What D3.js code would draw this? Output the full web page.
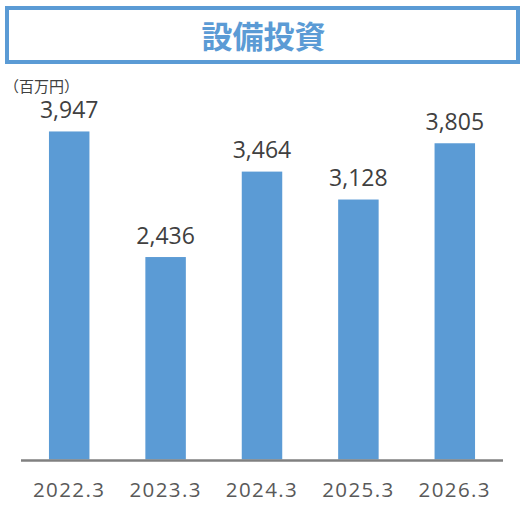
<!DOCTYPE html>
<html>
<head>
<meta charset="utf-8">
<script src="https://cdn.jsdelivr.net/npm/d3@7"></script>
<style>
  html, body { margin: 0; padding: 0; background: #fff; }
  svg { display: block; }
</style>
</head>
<body>
<svg id="chart" width="527" height="513"></svg>
<script>
const titleText = "設備投資";
const unitText = "（百万円）";
const categories = ["2022.3", "2023.3", "2024.3", "2025.3", "2026.3"];
const values = [3947, 2436, 3464, 3128, 3805];

const W = 527, H = 513;
const svg = d3.select("#chart");
const blue = "#5B9BD5";

// Title box
svg.append("rect")
  .attr("x", 7).attr("y", 8)
  .attr("width", 511).attr("height", 54)
  .attr("fill", "none")
  .attr("stroke", blue)
  .attr("stroke-width", 4);

svg.append("text")
  .attr("x", 263.5).attr("y", 34.5)
  .attr("text-anchor", "middle")
  .attr("dominant-baseline", "central")
  .attr("font-family", "'Noto Sans CJK JP', sans-serif")
  .attr("font-weight", "bold")
  .attr("font-size", 31)
  .attr("fill", blue)
  .text(titleText);

// Unit label
svg.append("text")
  .attr("x", 4).attr("y", 85)
  .attr("dominant-baseline", "central")
  .attr("font-family", "'Noto Sans CJK JP', sans-serif")
  .attr("font-size", 15)
  .attr("fill", "#404040")
  .text(unitText);

// Scales
const x = d3.scaleBand()
  .domain(categories)
  .range([21, 503])
  .paddingInner(0.58)
  .paddingOuter(0.29);

const y = d3.scaleLinear()
  .domain([0, 4500])
  .range([459.5, 85.5]);

// Bars
svg.append("g").selectAll("rect")
  .data(values)
  .join("rect")
  .attr("x", (d, i) => x(categories[i]))
  .attr("y", d => y(d))
  .attr("width", x.bandwidth())
  .attr("height", d => y(0) - y(d))
  .attr("fill", blue);

// Value labels
svg.append("g").selectAll("text")
  .data(values)
  .join("text")
  .attr("x", (d, i) => x(categories[i]) + x.bandwidth() / 2)
  .attr("y", d => y(d) - 13.5)
  .attr("text-anchor", "middle")
  .attr("font-family", "'Open Sans', sans-serif")
  .attr("font-size", 23)
  .attr("fill", "#404040")
  .text(d => d3.format(",")(d));

// X axis
const xAxis = d3.axisBottom(x).tickSize(0).tickPadding(0);
const gx = svg.append("g")
  .attr("transform", `translate(0, ${y(0) + 1})`)
  .call(xAxis);
gx.select(".domain")
  .attr("stroke", "#808080")
  .attr("stroke-width", 2.5)
  .attr("d", "M21,0H503");
gx.selectAll(".tick text")
  .attr("y", 0)
  .attr("dy", 0)
  .attr("transform", "translate(0, 36.8)")
  .attr("font-family", "'Open Sans', sans-serif")
  .attr("font-size", 20.5)
  .attr("letter-spacing", 1.4)
  .attr("fill", "#595959");
</script>
</body>
</html>
